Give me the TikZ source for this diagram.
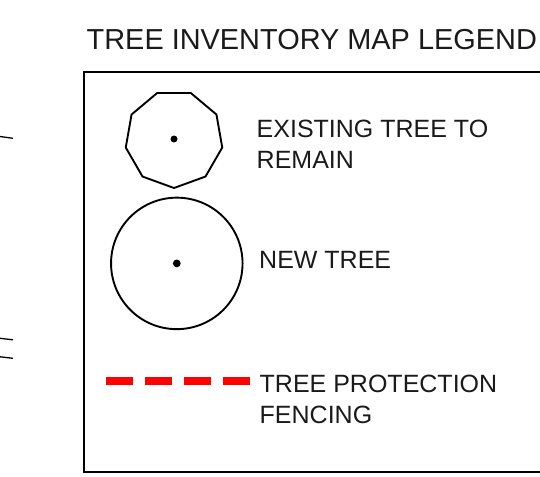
\documentclass[tikz,border=0pt]{standalone}
\usepackage{fontspec}
\usetikzlibrary{calc}
\setmainfont{Liberation Sans}
\definecolor{inkgray}{HTML}{1A1A1A}
\definecolor{fencered}{HTML}{FF0000}
\tikzset{
  treeline/.style={draw=black, line width=1.9pt, line join=miter},
  boxline/.style={draw=black, line width=2pt},
  markline/.style={draw=black, line width=1.3pt},
  fence/.style={draw=fencered, line width=8pt, dash pattern=on 27pt off 12pt},
  legendtext/.style={anchor=base west, inner sep=0pt, text=inkgray, font=\fontsize{25}{31}\selectfont, align=left},
  titletext/.style={anchor=base west, inner sep=0pt, text=inkgray, font=\fontsize{28.9}{34}\selectfont},
  centerdot/.style={fill=black, draw=none}
}
\begin{document}
\begin{tikzpicture}[x=1pt,y=-1pt]
\useasboundingbox (0,0) rectangle (540,476);
% frame (cut off at the right)
\coordinate (boxtr) at (560,72);
\coordinate (boxtl) at (84,72);
\coordinate (boxbl) at (84,471.5);
\coordinate (boxbr) at (560,471.5);
\draw[boxline] (boxtr) -- (boxtl) -- (boxbl) -- (boxbr);
% marks at left edge
\coordinate (m1a) at (0,136.5); \coordinate (m1b) at (13,138.3);
\coordinate (m2a) at (0,338.3); \coordinate (m2b) at (13,339.8);
\coordinate (m3a) at (0,356.8); \coordinate (m3b) at (13,358.3);
\draw[markline] (m1a) -- (m1b);
\draw[markline] (m2a) -- (m2b);
\draw[markline] (m3a) -- (m3b);
% title
\node[titletext] (title) at (86.5,49.3) {TREE INVENTORY MAP LEGEND};
% existing tree (nonagon)
\coordinate (exist) at (174,139);
\draw[treeline] ($(exist)+(90:49)$) \foreach \a in {130,170,...,410} { -- ($(exist)+(\a:49)$) } -- cycle;
\fill[centerdot] (exist) circle (3.5);
\node[legendtext] (existlabel) at (256.5,168.3) {EXISTING TREE TO\\REMAIN};
% new tree
\node[circle, treeline, minimum size=131.5pt, inner sep=0pt] (newtree) at (176.8,263.4) {};
\fill[centerdot] (newtree.center) circle (3.9);
\node[legendtext] (newlabel) at (259,268.3) {NEW TREE};
% fencing
\coordinate (fenceA) at (106,380.7);
\coordinate (fenceB) at (250,380.7);
\draw[fence] (fenceA) -- (fenceB);
\node[legendtext] (fencelabel) at (259.5,423.3) {TREE PROTECTION\\FENCING};
\end{tikzpicture}
\end{document}
